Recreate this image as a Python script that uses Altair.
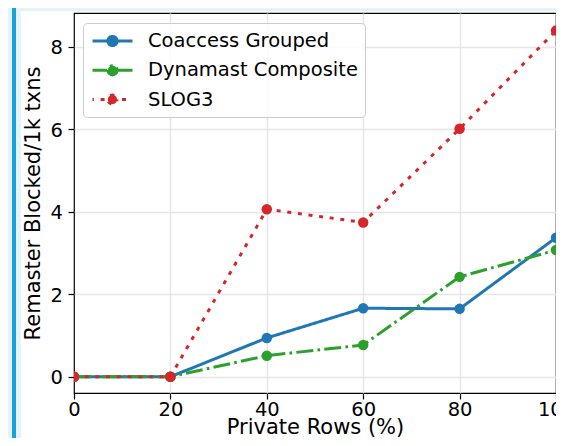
import altair as alt
import pandas as pd

x_vals = [0, 20, 40, 60, 80, 100]
series_names = ["Coaccess Grouped", "Dynamast Composite", "SLOG3"]
coaccess = [0, 0, 0.94, 1.66, 1.645, 3.37]
dynamast = [0, 0, 0.51, 0.77, 2.42, 3.07]
slog3 = [0, 0, 4.06, 3.74, 6.01, 8.39]
x_ticks = [0, 20, 40, 60, 80, 100]
y_ticks = [0, 2, 4, 6, 8]

colors = ["#1f77b4", "#2ca02c", "#d62728"]
dashes = [[1, 0], [17, 4.2, 2.7, 4.2], [4, 6.7]]

rows = []
for name, vals in zip(series_names, [coaccess, dynamast, slog3]):
    for xv, yv in zip(x_vals, vals):
        rows.append({"x": xv, "y": yv, "series": name})
df = pd.DataFrame(rows)

FONT = "DejaVu Sans"
color_scale = alt.Scale(domain=series_names, range=colors)
stroke_scale = alt.Scale(domain=series_names, range=colors)
dash_scale = alt.Scale(domain=series_names, range=dashes)

x_enc = alt.X(
    "x:Q",
    scale=alt.Scale(domain=[0, 100], nice=False, zero=False),
    axis=alt.Axis(
        values=x_ticks, format="d", title="Private Rows (%)",
        labelFont=FONT, labelFontSize=19.5, labelColor="black",
        titleFont=FONT, titleFontSize=21, titleFontWeight="normal", titleColor="black",
        tickSize=6, tickWidth=1.2, tickColor="black",
        labelPadding=1, titlePadding=-2, labelFlush=False, domain=False,
        grid=True, gridWidth=1.5,
        gridColor={"condition": {"test": "datum.value <= 0 || datum.value >= 100", "value": "rgba(0,0,0,0)"}, "value": "#e6e6e6"},
    ),
)
y_enc = alt.Y(
    "y:Q",
    scale=alt.Scale(domain=[-0.395, 8.817], nice=False, zero=False),
    axis=alt.Axis(
        values=y_ticks, format="d", title="Remaster Blocked/1k txns",
        labelFont=FONT, labelFontSize=19.5, labelColor="black", labelOffset=1,
        titleFont=FONT, titleFontSize=21, titleFontWeight="normal", titleColor="black",
        tickSize=6, tickWidth=1.2, tickColor="black",
        labelPadding=5.5, titlePadding=7, domain=False,
        grid=True, gridWidth=1.5, gridColor="#e6e6e6",
    ),
)

legend_path = "M-2,0L2,0M0.46,0A0.46,0.46,0,1,1,-0.46,0A0.46,0.46,0,1,1,0.46,0Z"
legend = alt.Legend(
    title=None, orient="none", legendX=9, legendY=10,
    symbolType=legend_path, symbolSize=400, symbolStrokeWidth=3,
    symbolDashOffset=2.6,
    symbolOffset=11.5, labelOffset=24,
    labelFont=FONT, labelFontSize=19.5, labelColor="black", labelLimit=400,
    rowPadding=6.3, padding=6.5,
    fillColor="rgba(255,255,255,0.8)", strokeColor="#cccccc", cornerRadius=4,
    symbolFillColor="#000000",
)

deco = alt.Chart(alt.Data(values=[{"k": 1}]))
bg_left = deco.mark_rect(color="#e4f3f9", clip=False).encode(
    x=alt.value(-66), x2=alt.value(-53), y=alt.value(-5), y2=alt.value(425))
bg_top = deco.mark_rect(color="#e4f3f9", clip=False).encode(
    x=alt.value(-66), x2=alt.value(482), y=alt.value(-5), y2=alt.value(-2))
stripe = deco.mark_rect(color="#18a4d8", clip=False).encode(
    x=alt.value(-62), x2=alt.value(-58), y=alt.value(-5), y2=alt.value(425))

base = alt.Chart(df)
ghost = base.mark_point(filled=True, strokeWidth=3, opacity=1).encode(
    x=x_enc, y=y_enc,
    color=alt.Color("series:N", scale=color_scale, legend=legend),
    stroke=alt.Stroke("series:N", scale=stroke_scale, legend=legend),
    strokeDash=alt.StrokeDash("series:N", scale=dash_scale, legend=legend),
).transform_filter("false")
lines = base.mark_line(strokeWidth=3, clip=True).encode(
    x="x:Q", y="y:Q",
    color=alt.Color("series:N", scale=color_scale),
    strokeDash=alt.StrokeDash("series:N", scale=dash_scale),
    detail="series:N",
)
points = base.mark_circle(size=110, opacity=1, clip=True).encode(
    x="x:Q", y="y:Q",
    color=alt.Color("series:N", scale=color_scale),
)

chart = alt.layer(bg_left, bg_top, stripe, ghost, lines, points).properties(
    width=482, height=380,
    autosize=alt.AutoSizeParams(type="none"),
    padding={"left": 66, "top": 5, "right": 0, "bottom": 45},
    background="white",
).configure_view(stroke="black", strokeWidth=1.2)

chart.save("out.html", embed_options={"renderer": "svg", "actions": False})
